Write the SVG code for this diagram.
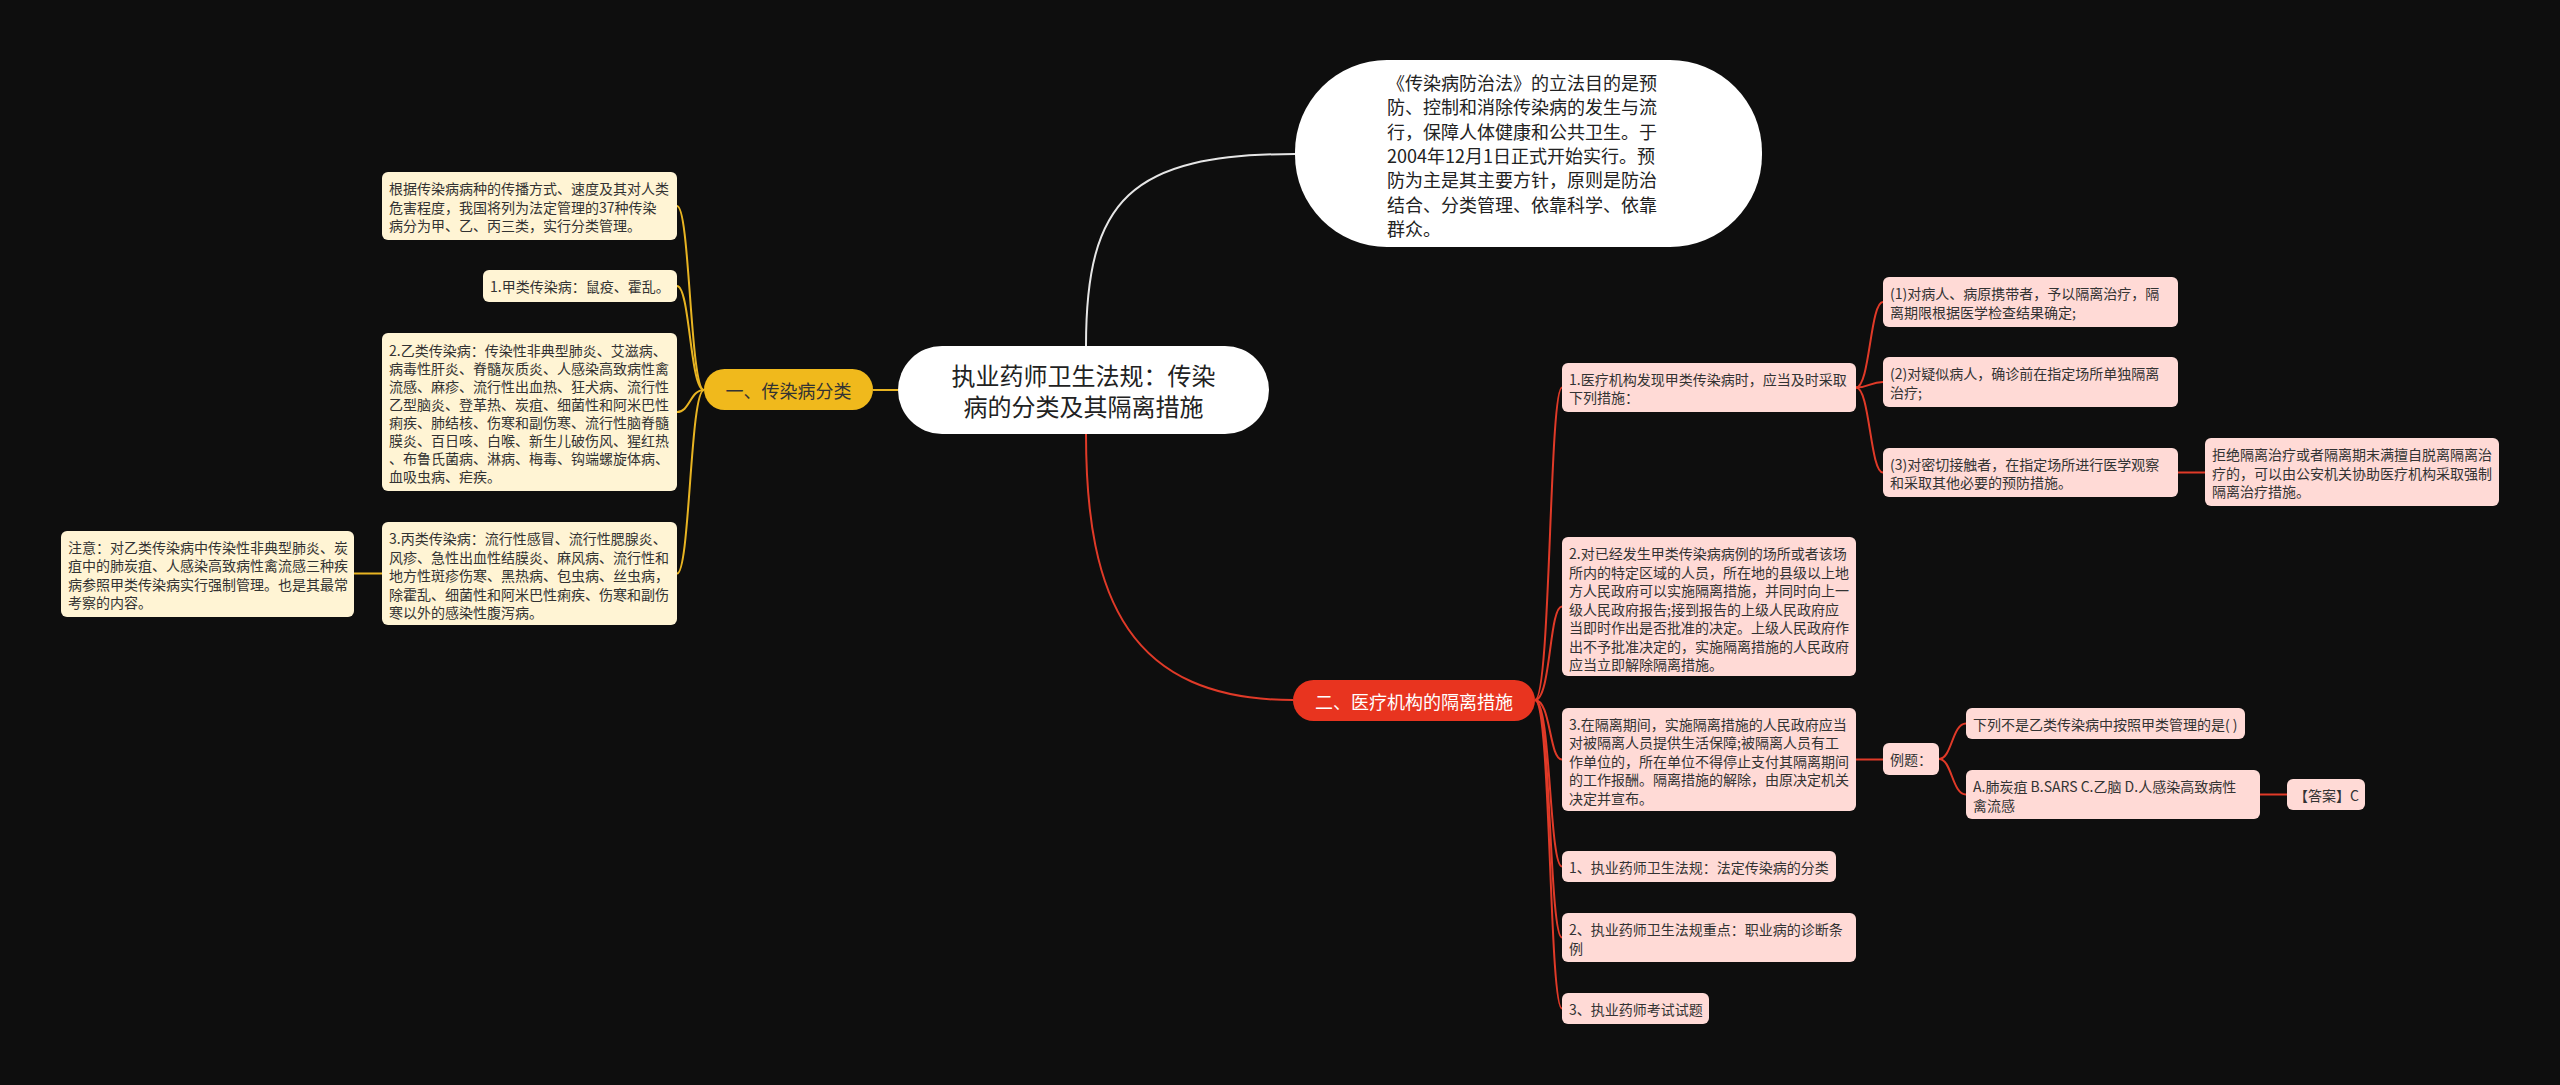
<svg xmlns="http://www.w3.org/2000/svg" width="2560" height="1085" viewBox="0 0 2560 1085">
<style>
text{font-family:"Noto Sans CJK SC","Liberation Sans",sans-serif;dominant-baseline:central}
.t14{font-size:14px;fill:#333}
.cream{fill:#FFF4D4}
.pink{fill:#FFDAD6}
.yl{fill:none;stroke:#E8B422;stroke-width:2}
.rl{fill:none;stroke:#E03A28;stroke-width:2}
.wl{fill:none;stroke:#E6E6E6;stroke-width:2}
</style>
<rect x="0" y="0" width="2560" height="1085" fill="#0E0E0E"/>

<g id="connectors">
  <path class="wl" d="M1086 346 C1086 200 1130 154 1295 154"/>
  <path class="rl" d="M1086 434 C1086 600 1130 700 1293 700"/>
  <path class="yl" d="M873 390 H898"/>
  <path class="yl" d="M704 390 C690 390 690 206 677 206"/>
  <path class="yl" d="M704 390 C690 390 690 286 677 286"/>
  <path class="yl" d="M704 390 C690 390 690 412 677 412"/>
  <path class="yl" d="M704 390 C690 390 690 573.5 677 573.5"/>
  <path class="yl" d="M382 573.5 H354"/>
  <path class="rl" d="M1535 700 C1551 700 1549 387.5 1562 387.5"/>
  <path class="rl" d="M1535 700 C1551 700 1549 606.5 1562 606.5"/>
  <path class="rl" d="M1535 700 C1551 700 1549 759.5 1562 759.5"/>
  <path class="rl" d="M1535 700 C1551 700 1549 866.5 1562 866.5"/>
  <path class="rl" d="M1535 700 C1551 700 1549 937.5 1562 937.5"/>
  <path class="rl" d="M1535 700 C1551 700 1549 1008.5 1562 1008.5"/>
  <path class="rl" d="M1856 387.5 C1870 387.5 1870 302 1883 302"/>
  <path class="rl" d="M1856 387.5 C1870 387.5 1870 382 1883 382"/>
  <path class="rl" d="M1856 387.5 C1870 387.5 1870 472.5 1883 472.5"/>
  <path class="rl" d="M2178 472.5 H2205"/>
  <path class="rl" d="M1856 759.5 H1883"/>
  <path class="rl" d="M1939 759 C1952 759 1952 723.5 1966 723.5"/>
  <path class="rl" d="M1939 759 C1952 759 1952 794.5 1966 794.5"/>
  <path class="rl" d="M2260 794.5 H2287"/>
</g>

<g id="center">
  <rect x="898" y="346" width="371" height="88" rx="44" fill="#FFFFFF"/>
  <text x="1083.5" y="374" font-size="24" fill="#222" text-anchor="middle">执业药师卫生法规：传染</text>
  <text x="1083.5" y="405" font-size="24" fill="#222" text-anchor="middle">病的分类及其隔离措施</text>
</g>

<g id="purpose">
  <rect x="1295" y="60" width="467" height="187" rx="92" fill="#FFFFFF"/>
  <text x="1387" y="82" font-size="18" fill="#222">《传染病防治法》的立法目的是预</text>
  <text x="1387" y="106.3" font-size="18" fill="#222">防、控制和消除传染病的发生与流</text>
  <text x="1387" y="130.6" font-size="18" fill="#222">行，保障人体健康和公共卫生。于</text>
  <text x="1387" y="154.9" font-size="18" fill="#222">2004年12月1日正式开始实行。预</text>
  <text x="1387" y="179.2" font-size="18" fill="#222">防为主是其主要方针，原则是防治</text>
  <text x="1387" y="203.5" font-size="18" fill="#222">结合、分类管理、依靠科学、依靠</text>
  <text x="1387" y="227.8" font-size="18" fill="#222">群众。</text>
</g>

<g id="branch1">
  <rect x="704" y="369" width="169" height="41" rx="20.5" fill="#F0B91C"/>
  <text x="788.5" y="390" font-size="18" fill="#333" text-anchor="middle">一、传染病分类</text>
</g>

<g id="b1-intro">
  <rect class="cream" x="382" y="172" width="295" height="68" rx="6"/>
  <text class="t14" x="389" y="188">根据传染病病种的传播方式、速度及其对人类</text>
  <text class="t14" x="389" y="206.5">危害程度，我国将列为法定管理的37种传染</text>
  <text class="t14" x="389" y="225">病分为甲、乙、丙三类，实行分类管理。</text>
</g>

<g id="b1-jia">
  <rect class="cream" x="483" y="270" width="194" height="32" rx="6"/>
  <text class="t14" x="490" y="286">1.甲类传染病：鼠疫、霍乱。</text>
</g>

<g id="b1-yi">
  <rect class="cream" x="382" y="333" width="295" height="158" rx="6"/>
  <text class="t14" x="389" y="350">2.乙类传染病：传染性非典型肺炎、艾滋病、</text>
  <text class="t14" x="389" y="368">病毒性肝炎、脊髓灰质炎、人感染高致病性禽</text>
  <text class="t14" x="389" y="386">流感、麻疹、流行性出血热、狂犬病、流行性</text>
  <text class="t14" x="389" y="404">乙型脑炎、登革热、炭疽、细菌性和阿米巴性</text>
  <text class="t14" x="389" y="422">痢疾、肺结核、伤寒和副伤寒、流行性脑脊髓</text>
  <text class="t14" x="389" y="440">膜炎、百日咳、白喉、新生儿破伤风、猩红热</text>
  <text class="t14" x="389" y="458">、布鲁氏菌病、淋病、梅毒、钩端螺旋体病、</text>
  <text class="t14" x="389" y="476">血吸虫病、疟疾。</text>
</g>

<g id="b1-bing">
  <rect class="cream" x="382" y="522" width="295" height="103" rx="6"/>
  <text class="t14" x="389" y="538">3.丙类传染病：流行性感冒、流行性腮腺炎、</text>
  <text class="t14" x="389" y="556.5">风疹、急性出血性结膜炎、麻风病、流行性和</text>
  <text class="t14" x="389" y="575">地方性斑疹伤寒、黑热病、包虫病、丝虫病，</text>
  <text class="t14" x="389" y="593.5">除霍乱、细菌性和阿米巴性痢疾、伤寒和副伤</text>
  <text class="t14" x="389" y="612">寒以外的感染性腹泻病。</text>
</g>

<g id="b1-note">
  <rect class="cream" x="61" y="531" width="293" height="86" rx="6"/>
  <text class="t14" x="68" y="546.5">注意：对乙类传染病中传染性非典型肺炎、炭</text>
  <text class="t14" x="68" y="565">疽中的肺炭疽、人感染高致病性禽流感三种疾</text>
  <text class="t14" x="68" y="583.5">病参照甲类传染病实行强制管理。也是其最常</text>
  <text class="t14" x="68" y="602">考察的内容。</text>
</g>

<g id="branch2">
  <rect x="1293" y="680" width="242" height="41" rx="20.5" fill="#E8341F"/>
  <text x="1414" y="700.5" font-size="18" fill="#FFFFFF" text-anchor="middle">二、医疗机构的隔离措施</text>
</g>

<g id="b2-1">
  <rect class="pink" x="1562" y="363" width="294" height="49" rx="6"/>
  <text class="t14" x="1569" y="378.5">1.医疗机构发现甲类传染病时，应当及时采取</text>
  <text class="t14" x="1569" y="397">下列措施：</text>
</g>

<g id="b2-1-1">
  <rect class="pink" x="1883" y="277" width="295" height="50" rx="6"/>
  <text class="t14" x="1890" y="293">(1)对病人、病原携带者，予以隔离治疗，隔</text>
  <text class="t14" x="1890" y="311.5">离期限根据医学检查结果确定;</text>
</g>

<g id="b2-1-2">
  <rect class="pink" x="1883" y="357" width="295" height="50" rx="6"/>
  <text class="t14" x="1890" y="373">(2)对疑似病人，确诊前在指定场所单独隔离</text>
  <text class="t14" x="1890" y="391.5">治疗;</text>
</g>

<g id="b2-1-3">
  <rect class="pink" x="1883" y="448" width="295" height="49" rx="6"/>
  <text class="t14" x="1890" y="463.5">(3)对密切接触者，在指定场所进行医学观察</text>
  <text class="t14" x="1890" y="482">和采取其他必要的预防措施。</text>
</g>

<g id="b2-1-3-1">
  <rect class="pink" x="2205" y="438" width="294" height="68" rx="6"/>
  <text class="t14" x="2212" y="454">拒绝隔离治疗或者隔离期末满擅自脱离隔离治</text>
  <text class="t14" x="2212" y="472.5">疗的，可以由公安机关协助医疗机构采取强制</text>
  <text class="t14" x="2212" y="491">隔离治疗措施。</text>
</g>

<g id="b2-2">
  <rect class="pink" x="1562" y="537" width="294" height="139" rx="6"/>
  <text class="t14" x="1569" y="553">2.对已经发生甲类传染病病例的场所或者该场</text>
  <text class="t14" x="1569" y="571.5">所内的特定区域的人员，所在地的县级以上地</text>
  <text class="t14" x="1569" y="590">方人民政府可以实施隔离措施，并同时向上一</text>
  <text class="t14" x="1569" y="608.5">级人民政府报告;接到报告的上级人民政府应</text>
  <text class="t14" x="1569" y="627">当即时作出是否批准的决定。上级人民政府作</text>
  <text class="t14" x="1569" y="645.5">出不予批准决定的，实施隔离措施的人民政府</text>
  <text class="t14" x="1569" y="664">应当立即解除隔离措施。</text>
</g>

<g id="b2-3">
  <rect class="pink" x="1562" y="708" width="294" height="103" rx="6"/>
  <text class="t14" x="1569" y="723.5">3.在隔离期间，实施隔离措施的人民政府应当</text>
  <text class="t14" x="1569" y="742">对被隔离人员提供生活保障;被隔离人员有工</text>
  <text class="t14" x="1569" y="760.5">作单位的，所在单位不得停止支付其隔离期间</text>
  <text class="t14" x="1569" y="779">的工作报酬。隔离措施的解除，由原决定机关</text>
  <text class="t14" x="1569" y="797.5">决定并宣布。</text>
</g>

<g id="b2-3-ex">
  <rect class="pink" x="1883" y="743" width="56" height="32" rx="6"/>
  <text class="t14" x="1890" y="759">例题：</text>
</g>

<g id="b2-3-q">
  <rect class="pink" x="1966" y="708" width="279" height="31" rx="6"/>
  <text class="t14" x="1973" y="723.5">下列不是乙类传染病中按照甲类管理的是( )</text>
</g>

<g id="b2-3-opt">
  <rect class="pink" x="1966" y="770" width="294" height="49" rx="6"/>
  <text class="t14" x="1973" y="786">A.肺炭疽 B.SARS C.乙脑 D.人感染高致病性</text>
  <text class="t14" x="1973" y="804.5">禽流感</text>
</g>

<g id="b2-3-ans">
  <rect class="pink" x="2287" y="779" width="78" height="31" rx="6"/>
  <text class="t14" x="2294" y="794.5">【答案】C</text>
</g>

<g id="b2-4">
  <rect class="pink" x="1562" y="851" width="274" height="31" rx="6"/>
  <text class="t14" x="1569" y="866.5">1、执业药师卫生法规：法定传染病的分类</text>
</g>

<g id="b2-5">
  <rect class="pink" x="1562" y="913" width="294" height="49" rx="6"/>
  <text class="t14" x="1569" y="929">2、执业药师卫生法规重点：职业病的诊断条</text>
  <text class="t14" x="1569" y="947.5">例</text>
</g>

<g id="b2-6">
  <rect class="pink" x="1562" y="993" width="147" height="31" rx="6"/>
  <text class="t14" x="1569" y="1008.5">3、执业药师考试试题</text>
</g>
</svg>
